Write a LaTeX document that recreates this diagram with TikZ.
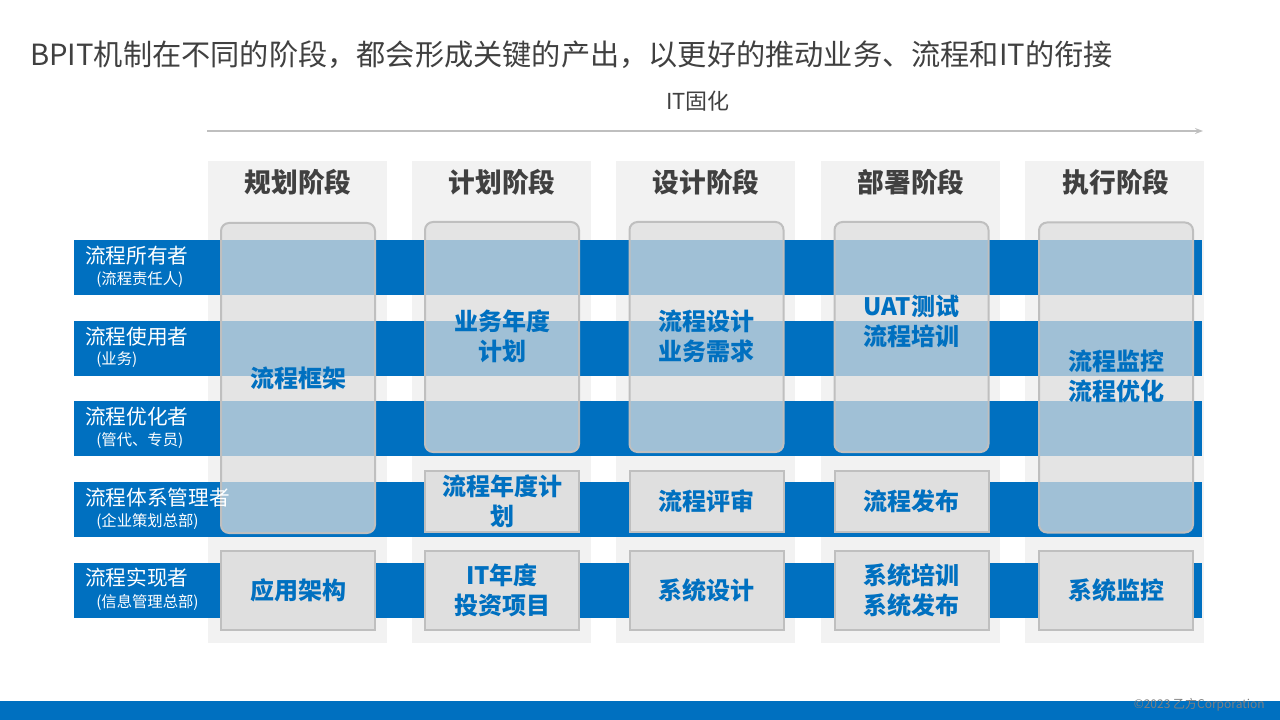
\documentclass[tikz,border=0pt]{standalone}
\usepackage{fontspec}
\setmainfont{Noto Sans CJK SC}
\usepackage{tikz}
\usetikzlibrary{positioning, arrows.meta}
\definecolor{bandblue}{HTML}{0070C0}
\definecolor{colbg}{HTML}{F2F2F2}
\definecolor{boxfill}{HTML}{DFDFDF}
\definecolor{boxline}{HTML}{BFBFBF}
\definecolor{darktext}{HTML}{404040}
\definecolor{foottext}{HTML}{7F7F7F}
\tikzset{
  stagecol/.style={
    rectangle,
    fill=colbg,
    minimum width=134.25pt,
    minimum height=361.5pt,
    inner sep=0pt
  },
  band/.style={
    rectangle,
    fill=bandblue,
    minimum width=846pt,
    minimum height=41.25pt,
    inner sep=0pt
  },
  bigbox/.style={
    rectangle,
    rounded corners=6pt,
    draw=boxline,
    line width=1.5pt,
    fill=boxfill,
    fill opacity=0.72,
    minimum width=115.5pt,
    inner sep=0pt
  },
  outbox/.style={
    rectangle,
    draw=boxline,
    line width=1.5pt,
    fill=boxfill,
    minimum width=115.5pt,
    inner sep=0pt
  },
  outtext/.style={
    text=bandblue,
    font=\fontsize{18}{22.5}\selectfont\bfseries,
    align=center
  },
  stagetitle/.style={
    text=darktext,
    font=\fontsize{20}{24}\selectfont\bfseries
  },
  rolename/.style={
    text=white,
    font=\fontsize{15.5}{18}\selectfont,
    anchor=west,
    inner sep=0pt
  },
  rolenote/.style={
    text=white,
    font=\fontsize{11.5}{14}\selectfont,
    anchor=west,
    inner sep=0pt
  },
  arrow/.style={
    draw=boxline,
    line width=1.2pt,
    -{Stealth[length=6pt]}
  }
}

\begin{document}
\begin{tikzpicture}[x=0.75pt, y=-0.75pt]
\useasboundingbox (0,0) rectangle (1280,720);

% Title
\node (title) [anchor=west, inner sep=0pt, text=darktext, font=\fontsize{21.9}{26}\selectfont] at (30,55) {BPIT机制在不同的阶段，都会形成关键的产出，以更好的推动业务、流程和IT的衔接};
\node (itlabel) [text=darktext, font=\fontsize{16.5}{20}\selectfont] at (698,101) {IT固化};

\coordinate (itstart) at (207,131);
\coordinate (itend) at (1203,131);
\draw [arrow] (itstart) -- (itend);

% Stage columns
\node (col1) [stagecol] at (297.5,402) {};
\node (col2) [stagecol] at (501.5,402) {};
\node (col3) [stagecol] at (705.5,402) {};
\node (col4) [stagecol] at (910.5,402) {};
\node (col5) [stagecol] at (1114.5,402) {};

\node (stage1) [stagetitle] at (298,182) {规划阶段};
\node (stage2) [stagetitle] at (502,182) {计划阶段};
\node (stage3) [stagetitle] at (706,182) {设计阶段};
\node (stage4) [stagetitle] at (911,182) {部署阶段};
\node (stage5) [stagetitle] at (1116,182) {执行阶段};

% Role bands
\node (band1) [band] at (638,267.5) {};
\node (band2) [band] at (638,348.5) {};
\node (band3) [band] at (638,428.5) {};
\node (band4) [band] at (638,509.5) {};
\node (band5) [band] at (638,590) {};

% Outputs
\node (plan1) [bigbox, minimum height=232.5pt] at (298,378) {};
\node (plan2) [bigbox, minimum height=172.5pt] at (502,337) {};
\node (plan3) [bigbox, minimum height=172.5pt] at (706.5,337) {};
\node (plan4) [bigbox, minimum height=172.5pt] at (911.5,337) {};
\node (plan5) [bigbox, minimum height=232.5pt] at (1116,377.5) {};

\node (plan1text) [outtext] at (298,378) {流程框架};
\node (plan2text) [outtext] at (502,336) {业务年度\\计划};
\node (plan3text) [outtext] at (706.5,336) {流程设计\\业务需求};
\node (plan4text) [outtext] at (911.5,321) {UAT测试\\流程培训};
\node (plan5text) [outtext] at (1116,376) {流程监控\\流程优化};

\node (sys2) [outbox, minimum height=45.75pt] at (502,501.5) {};
\node (sys3) [outbox, minimum height=45.75pt] at (706.5,501.5) {};
\node (sys4) [outbox, minimum height=45.75pt] at (911.5,501.5) {};

\node (sys2text) [outtext] at (502,501.5) {流程年度计\\划};
\node (sys3text) [outtext] at (706.5,501.5) {流程评审};
\node (sys4text) [outtext] at (911.5,501.5) {流程发布};

\node (it1) [outbox, minimum height=59.25pt] at (298,590.5) {};
\node (it2) [outbox, minimum height=59.25pt] at (502,590.5) {};
\node (it3) [outbox, minimum height=59.25pt] at (706.5,590.5) {};
\node (it4) [outbox, minimum height=59.25pt] at (911.5,590.5) {};
\node (it5) [outbox, minimum height=59.25pt] at (1116,590.5) {};

\node (it1text) [outtext] at (298,590.5) {应用架构};
\node (it2text) [outtext] at (502,590.5) {IT年度\\投资项目};
\node (it3text) [outtext] at (706.5,590.5) {系统设计};
\node (it4text) [outtext] at (911.5,590.5) {系统培训\\系统发布};
\node (it5text) [outtext] at (1116,590.5) {系统监控};

% Role labels
\node (role1) [rolename] at (85,256) {流程所有者};
\node (note1) [rolenote] at (96,280) {(流程责任人)};
\node (role2) [rolename] at (85,337) {流程使用者};
\node (note2) [rolenote] at (96,360) {(业务)};
\node (role3) [rolename] at (85,417) {流程优化者};
\node (note3) [rolenote] at (96,441) {(管代、专员)};
\node (role4) [rolename] at (85,498) {流程体系管理者};
\node (note4) [rolenote] at (96,521) {(企业策划总部)};
\node (role5) [rolename] at (85,578) {流程实现者};
\node (note5) [rolenote] at (96,602) {(信息管理总部)};

% Footer
\node (footbar) [rectangle, fill=bandblue, minimum width=960pt, minimum height=14.25pt, inner sep=0pt] at (640,710.5) {};
\node (foot) [anchor=east, inner sep=0pt, text=foottext, font=\fontsize{9}{10}\selectfont] at (1265,705) {©2023 乙方Corporation};

\end{tikzpicture}
\end{document}
